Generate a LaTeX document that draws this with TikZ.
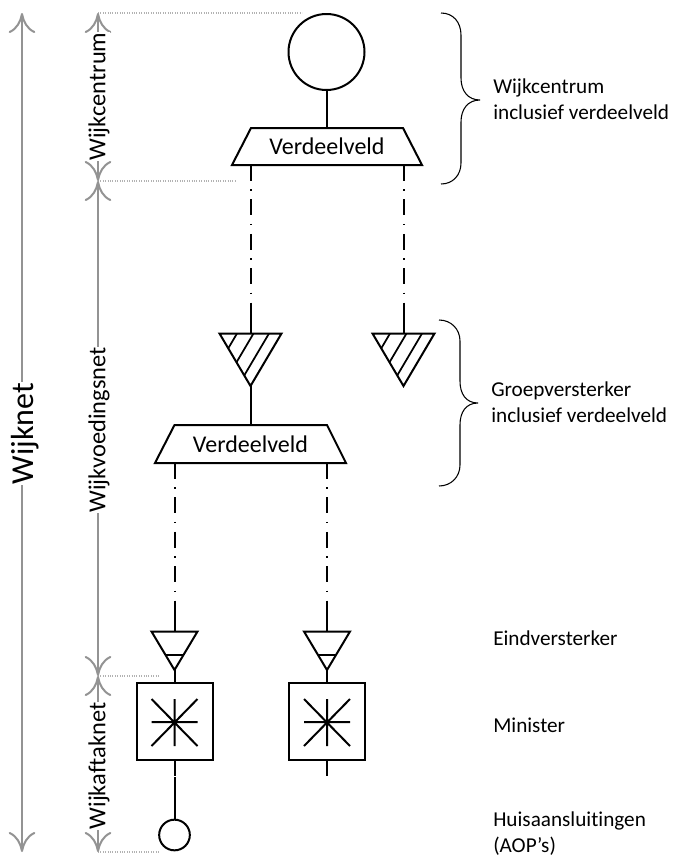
\documentclass[tikz,border=0pt]{standalone}
\usepackage{fontspec}
\setmainfont[Ligatures=NoCommon]{Carlito}
\usetikzlibrary{arrows.meta}
\tikzset{
  dimline/.style={draw=gray!85,line width=1.5pt,{Computer Modern Rightarrow[length=15pt,width=20pt]}-{Computer Modern Rightarrow[length=15pt,width=20pt]}},
  helpline/.style={gray!60,densely dotted,line width=0.8pt},
  wire/.style={line width=1.5pt},
  link/.style={line width=1.5pt,dash pattern=on 12pt off 6.3pt on 1.2pt off 6.3pt},
  sidelabel/.style={rotate=90,fill=white,inner sep=0.5pt,font=\fontsize{18.3}{20}\selectfont},
  fieldlabel/.style={font=\fontsize{18}{20}\selectfont},
  infolabel/.style={anchor=west,align=left,inner sep=0pt,font=\fontsize{15.9}{19.5}\selectfont},
  curly/.style={line width=0.8pt}
}
\begin{document}
\begin{tikzpicture}[x=0.75pt,y=-0.75pt]
\useasboundingbox (0,0) rectangle (674,858);
% maten links
\coordinate (nettop) at (22,13);
\coordinate (netbot) at (22,852);
\coordinate (centop) at (98,13);
\coordinate (censplit) at (98,181);
\coordinate (voedsplit) at (98,676);
\coordinate (aftbot) at (98,852);
\draw[helpline] (centop) -- (302,13);
\draw[helpline] (censplit) -- (236,181);
\draw[helpline] (voedsplit) -- (160,676);
\draw[helpline] (aftbot) -- (160,852);
\draw[dimline] (nettop) -- (netbot);
\draw[dimline] (centop) -- (censplit);
\draw[dimline] (censplit) -- (voedsplit);
\draw[dimline] (voedsplit) -- (aftbot);
\node[sidelabel,font=\fontsize{24}{26}\selectfont] (wijknet) at (25,433.5) {Wijknet};
\node[sidelabel] (wijkcentrum) at (99,96.5) {Wijkcentrum};
\node[sidelabel] (wijkvoedingsnet) at (99,430) {Wijkvoedingsnet};
\node[sidelabel] (wijkaftaknet) at (99,766) {Wijkaftaknet};
% wijkcentrum
\node[draw,wire,circle,minimum size=57pt,inner sep=0pt] (centrum) at (326.5,52) {};
\draw[wire] (251,128) -- (403,128) -- (422,165) -- (232,165) -- cycle;
\node[fieldlabel] (veld1) at (327,146) {Verdeelveld};
\draw[wire] (centrum) -- (326.5,128);
\foreach \cx in {251,403.5}{
  \draw[link] (\cx,165) -- (\cx,303);
  \draw[wire] (\cx,303) -- (\cx,333);
}
% groepversterkers
\foreach \cx in {250.5,403.5}{
  \begin{scope}[shift={(\cx,0)}]
    \draw[wire] (-31,333.5) -- (31,333.5) -- (0,386) -- cycle;
    \clip (-31,333.5) -- (31,333.5) -- (0,386) -- cycle;
    \foreach \t in {-13.5,3,18.5}
      \draw[line width=1.3pt] (\t,333.5) -- (\t-31,386);
  \end{scope}
}
\draw[wire] (250.5,386) -- (250.5,425);
\draw[wire] (174.5,425) -- (327,425) -- (346,463) -- (155,463) -- cycle;
\node[fieldlabel] (veld2) at (250.5,444) {Verdeelveld};
\foreach \cx in {174.5,327}{
  \draw[link] (\cx,463) -- (\cx,601);
  \draw[wire] (\cx,601) -- (\cx,631);
}
% eindversterkers en ministers
\foreach \cx in {174.5,327}{
  \begin{scope}[shift={(\cx,0)}]
    \draw[wire] (-23,631.5) -- (23,631.5) -- (0,670) -- cycle;
    \draw[wire] (-9,654.5) -- (9,654.5);
    \draw[wire] (0,670) -- (0,683);
    \draw[wire] (-38,683) rectangle (38,760);
    \draw[wire] (-23,722) -- (23,722) (0,699) -- (0,746) (-23,699) -- (23,746) (-23,746) -- (23,699);
    \draw[wire] (0,760) -- (0,776);
  \end{scope}
}
\node[draw,wire,circle,minimum size=23pt,inner sep=0pt] (huis) at (174.5,835) {};
\draw[wire] (174.5,777) -- (huis);
% accolades
\draw[curly] (441,13) .. controls (453,13) and (461,22) .. (461,35) -- (461,78) .. controls (461,91) and (468,100) .. (480,100) .. controls (468,100) and (461,109) .. (461,122) -- (461,163) .. controls (461,175) and (453,184) .. (441,184);
\draw[curly] (439,320) .. controls (451,320) and (460,329) .. (460,341) -- (460,381) .. controls (460,394) and (466,403) .. (478,403) .. controls (466,403) and (460,412) .. (460,425) -- (460,465) .. controls (460,477) and (451,486) .. (439,486);
% teksten rechts
\node[infolabel] (info1) at (493,99) {Wijkcentrum\\inclusief verdeelveld};
\node[infolabel] (info2) at (491,402) {Groepversterker\\inclusief verdeelveld};
\node[infolabel] (info3) at (493,638) {Eindversterker};
\node[infolabel] (info4) at (493,725) {Minister};
\node[infolabel] (info5) at (493,834) {Huisaansluitingen\\(AOP’s)};
\end{tikzpicture}
\end{document}
